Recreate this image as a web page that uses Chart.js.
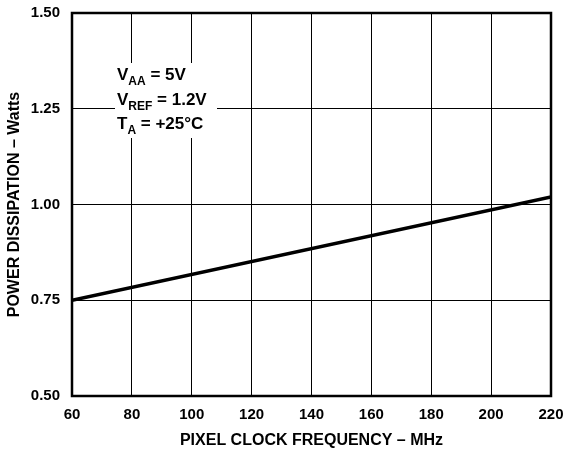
<!DOCTYPE html>
<html>
<head>
<meta charset="utf-8">
<script src="https://cdn.jsdelivr.net/npm/chart.js@4/dist/chart.umd.min.js"></script>
<style>
  html, body { margin: 0; padding: 0; background: #fff; }
  #wrap { width: 563px; height: 450px; }
</style>
</head>
<body>
<div id="wrap"><canvas id="powerChart" width="563" height="450"></canvas></div>
<script>
// data
const freqMHz = [60, 220];
const powerWatts = [0.75, 1.02];
const xTicks = [60, 80, 100, 120, 140, 160, 180, 200, 220];
const yTicks = [0.5, 0.75, 1.0, 1.25, 1.5];
const notes = [
  ["V", "AA", " = 5V"],
  ["V", "REF", " = 1.2V"],
  ["T", "A", " = +25°C"],
];

const FONT = "'Liberation Sans', Arial, Helvetica, sans-serif";

// white box + condition text, and the full frame round the plot
const notesPlugin = {
  id: "notes",
  beforeDatasetsDraw(chart) {
    const ctx = chart.ctx;
    ctx.save();
    ctx.fillStyle = "#fff";
    ctx.fillRect(115, 63, 102, 75);
    ctx.fillStyle = "#000";
    ctx.textBaseline = "alphabetic";
    let y = 80;
    notes.forEach(([main, sub, rest]) => {
      let x = 117;
      ctx.font = "bold 17px " + FONT;
      ctx.fillText(main, x, y);
      x += ctx.measureText(main).width;
      ctx.font = "bold 12px " + FONT;
      ctx.fillText(sub, x, y + 5);
      x += ctx.measureText(sub).width;
      ctx.font = "bold 17px " + FONT;
      ctx.fillText(rest, x, y);
      y += 24.5;
    });
    ctx.restore();
  },
  afterDraw(chart) {
    const a = chart.chartArea;
    const ctx = chart.ctx;
    ctx.save();
    ctx.strokeStyle = "#000";
    ctx.lineWidth = 2.5;
    ctx.strokeRect(a.left, a.top, a.right - a.left, a.bottom - a.top);
    ctx.restore();
  },
};

function noEdgePadding(s) {
  s.paddingLeft = 0;
  s.paddingRight = 0;
  s.paddingTop = 0;
  s.paddingBottom = 0;
}

new Chart(document.getElementById("powerChart").getContext("2d"), {
  type: "line",
  data: {
    datasets: [
      {
        data: freqMHz.map((f, i) => ({ x: f, y: powerWatts[i] })),
        borderColor: "#000",
        borderWidth: 3.5,
        pointRadius: 0,
        tension: 0,
        fill: false,
      },
    ],
  },
  options: {
    responsive: false,
    animation: false,
    devicePixelRatio: 1,
    layout: { padding: { top: 13, right: 12, left: 0, bottom: 0 } },
    plugins: { legend: { display: false }, tooltip: { enabled: false } },
    scales: {
      x: {
        type: "linear",
        min: 60,
        max: 220,
        afterBuildTicks: (s) => { s.ticks = xTicks.map((v) => ({ value: v })); },
        afterFit: (s) => { s.height = 54; noEdgePadding(s); },
        grid: { color: "#000", lineWidth: 1, drawTicks: false },
        border: { display: false },
        ticks: {
          padding: 10,
          color: "#000",
          font: { family: FONT, size: 15, weight: "bold" },
          maxRotation: 0,
        },
        title: {
          display: true,
          text: "PIXEL CLOCK FREQUENCY – MHz",
          color: "#000",
          font: { family: FONT, size: 16, weight: "bold" },
          padding: { top: 0, bottom: 0 },
        },
      },
      y: {
        type: "linear",
        min: 0.5,
        max: 1.5,
        afterBuildTicks: (s) => { s.ticks = yTicks.map((v) => ({ value: v })); },
        afterFit: (s) => { s.width = 72; noEdgePadding(s); },
        grid: { color: "#000", lineWidth: 1, drawTicks: false },
        border: { display: false },
        ticks: {
          padding: 12,
          color: "#000",
          font: { family: FONT, size: 15, weight: "bold" },
          callback: (v) => v.toFixed(2),
        },
        title: {
          display: true,
          text: "POWER DISSIPATION – Watts",
          color: "#000",
          font: { family: FONT, size: 16, weight: "bold" },
          padding: { top: 5, bottom: 0 },
        },
      },
    },
  },
  plugins: [notesPlugin],
});
</script>
</body>
</html>
